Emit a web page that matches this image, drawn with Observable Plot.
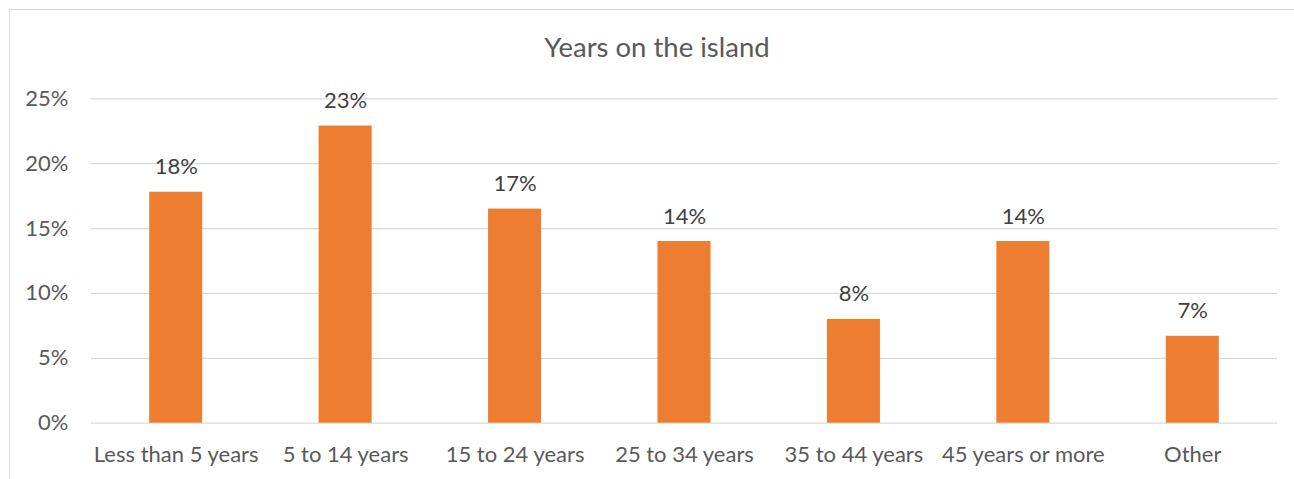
<!DOCTYPE html>
<html>
<head>
<meta charset="utf-8">
<script src="https://cdn.jsdelivr.net/npm/d3@7"></script>
<script src="https://cdn.jsdelivr.net/npm/@observablehq/plot@0.6"></script>
<style>
  body { margin: 0; background: #fff; }
  #chart { position: relative; width: 1294px; height: 479px; overflow: hidden; font-family: Lato, sans-serif; }
  #frame { position: absolute; left: 9px; top: 9px; width: 2000px; height: 2000px;
           border-left: 1px solid #d9d9d9; border-top: 1px solid #d9d9d9; }
  #title { position: absolute; left: 9px; width: 1296px; top: 30px; text-align: center;
           font-size: 27.5px; line-height: 34px; color: #595959; }
  #plot { position: absolute; left: 0; top: 80px; }
</style>
</head>
<body>
<div id="chart">
  <div id="frame"></div>
  <div id="title">Years on the island</div>
  <div id="plot"></div>
</div>
<script>
// Share of respondents by time lived on the island
const categories = [
  "Less than 5 years",
  "5 to 14 years",
  "15 to 24 years",
  "25 to 34 years",
  "35 to 44 years",
  "45 years or more",
  "Other"
];
const shares = [0.178, 0.229, 0.165, 0.140, 0.080, 0.140, 0.067];
const yTicks = [0, 0.05, 0.10, 0.15, 0.20, 0.25];

const data = categories.map((category, i) => ({category, share: shares[i]}));
const pct = d3.format(".0%");

const chart = Plot.plot({
  width: 1294,
  height: 399,
  marginTop: 18.3,
  marginBottom: 56.3,
  marginLeft: 91,
  marginRight: 17,
  style: {fontFamily: "Lato, sans-serif", fontSize: "22px", color: "#595959", background: "transparent"},
  x: {domain: categories, paddingInner: 0.687, paddingOuter: 0.3435, round: false, label: null},
  y: {domain: [0, 0.25], label: null},
  marks: [
    Plot.gridY(yTicks, {stroke: "#d9d9d9", strokeOpacity: 1, strokeWidth: 1.3}),
    Plot.barY(data, {x: "category", y: "share", fill: "#ED7D31"}),
    Plot.text(data, {x: "category", y: "share", text: d => pct(d.share), dy: -25, fill: "#404040", fontSize: 22}),
    Plot.axisX({tickSize: 0, tickPadding: 23, fill: "#595959", fontSize: 22}),
    Plot.axisY(yTicks, {tickFormat: pct, tickSize: 0, tickPadding: 23, fill: "#595959", fontSize: 22})
  ]
});
document.getElementById("plot").appendChild(chart);
</script>
</body>
</html>
